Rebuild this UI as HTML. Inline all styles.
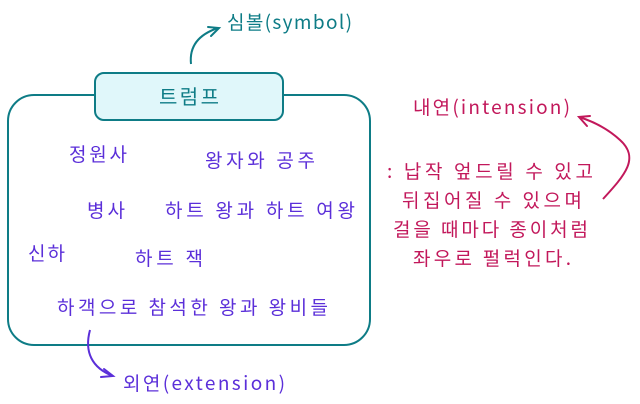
<!DOCTYPE html>
<html><head><meta charset="utf-8"><style>
html,body{margin:0;padding:0;background:#fff;width:640px;height:404px;overflow:hidden}
text{font-family:"Noto Sans CJK KR","Liberation Sans",sans-serif}
</style></head><body>
<svg width="640" height="404" viewBox="0 0 640 404" xmlns="http://www.w3.org/2000/svg">
<!-- outer box -->
<rect x="8" y="95" width="362" height="250" rx="26" fill="none" stroke="#0e7c86" stroke-width="2"/>
<!-- trump box -->
<rect x="95" y="73" width="188" height="47" rx="9" fill="#e0f7fa" stroke="#0e7c86" stroke-width="2"/>
<text x="189" y="104" text-anchor="middle" font-size="20" fill="#0e7c86" textLength="60" lengthAdjust="spacing">트럼프</text>
<!-- symbol -->
<path d="M191,64 C189,45 200,34 218,28" fill="none" stroke="#0e7c86" stroke-width="2"/>
<path d="M208,27 L219,28 L211,36" fill="none" stroke="#0e7c86" stroke-width="2" stroke-linecap="round"/>
<text x="227" y="29" font-size="19" fill="#0e7c86" textLength="125" lengthAdjust="spacing">심볼(symbol)</text>
<!-- items -->
<g fill="#5b2fd9" font-size="19">
<text x="69" y="161" textLength="58" lengthAdjust="spacing">정원사</text>
<text x="205" y="167" textLength="110" lengthAdjust="spacing">왕자와 공주</text>
<text x="87" y="217" textLength="38" lengthAdjust="spacing">병사</text>
<text x="165" y="217" textLength="190" lengthAdjust="spacing">하트 왕과 하트 여왕</text>
<text x="28" y="260" textLength="37" lengthAdjust="spacing">신하</text>
<text x="135" y="265" textLength="68" lengthAdjust="spacing">하트 잭</text>
<text x="57" y="314" textLength="271" lengthAdjust="spacing">하객으로 참석한 왕과 왕비들</text>
</g>
<!-- extension arrow -->
<path d="M90,330 C84,352 92,368 113,376" fill="none" stroke="#5b2fd9" stroke-width="2"/>
<path d="M104,369 L113,376 L101,377" fill="none" stroke="#5b2fd9" stroke-width="2" stroke-linecap="round"/>
<text x="123" y="390" font-size="19" fill="#5b2fd9" textLength="162" lengthAdjust="spacing">외연(extension)</text>
<!-- intension -->
<g fill="#c2185b" font-size="19">
<text x="413" y="114" textLength="157" lengthAdjust="spacing">내연(intension)</text>
<text x="387" y="178" textLength="206" lengthAdjust="spacing">: 납작 엎드릴 수 있고</text>
<text x="402" y="207" textLength="180" lengthAdjust="spacing">뒤집어질 수 있으며</text>
<text x="393" y="236" textLength="195" lengthAdjust="spacing">걸을 때마다 종이처럼</text>
<text x="413" y="265" textLength="158" lengthAdjust="spacing">좌우로 펄럭인다.</text>
</g>
<path d="M603,199 C625,175 640,158 620,140 C608,129 595,122 579,117" fill="none" stroke="#c2185b" stroke-width="2"/>
<path d="M590,116 L579,117 L587,126" fill="none" stroke="#c2185b" stroke-width="2" stroke-linecap="round"/>
</svg>
</body></html>
